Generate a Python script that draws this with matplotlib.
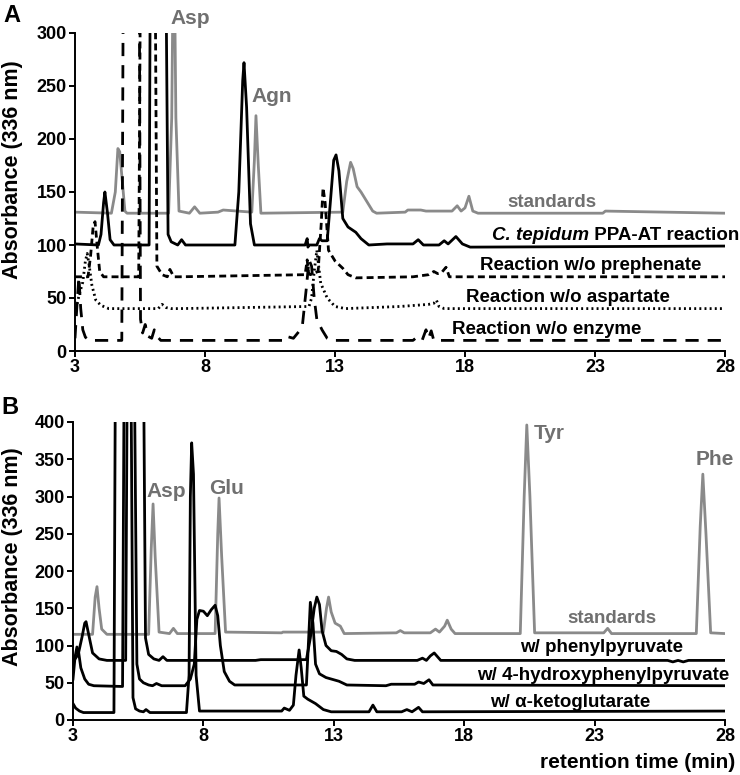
import matplotlib
matplotlib.use("Agg")
import matplotlib.pyplot as plt

plt.rcParams['font.family'] = ['Liberation Sans', 'DejaVu Sans']
plt.rcParams['font.weight'] = 'bold'
plt.rcParams['lines.scale_dashes'] = False

# ---------- panel A data ----------
stdA_t = [3.0, 4.4, 4.55, 4.65, 4.72, 4.82, 4.92, 5.0, 6.6, 6.72, 6.8, 6.88, 7.0, 7.4, 7.6, 7.8, 8.5, 8.7,
          9.8, 9.9, 9.96, 10.05, 10.15, 13.3, 13.45, 13.6, 13.7, 13.85, 14.0, 14.2, 14.45, 14.6, 15.7, 15.8,
          16.3, 16.5, 17.5, 17.7, 17.85, 18.0, 18.15, 18.3, 18.5, 23.3, 23.4, 28.0]
stdA_v = [131, 130, 150, 191, 188, 160, 132, 130, 130, 220, 420, 220, 132, 130, 136, 130, 131, 133,
          131, 180, 222, 175, 130, 131, 160, 178, 172, 155, 150, 142, 132, 130, 131, 133,
          133, 132, 132, 137, 132, 135, 146, 132, 130, 130, 132, 130]

ct_t = [3.0, 3.9, 4.0, 4.1, 4.15, 4.25, 4.35, 4.5, 5.85, 5.92, 6.45, 6.58, 6.7, 6.95, 7.1, 7.25, 7.5,
        9.15, 9.3, 9.45, 9.5, 9.6, 9.75, 9.9, 11.85, 11.93, 11.96, 12.0, 12.3, 12.4, 12.5, 12.7, 12.82,
        12.95, 13.04, 13.15, 13.3, 13.5, 13.8, 14.0, 14.3, 15.0, 16.0, 16.2, 16.4, 17.0, 17.2, 17.35,
        17.65, 17.9, 18.2, 28.0]
ct_v = [101, 100, 110, 140, 150, 130, 105, 100, 100, 500, 500, 110, 103, 100, 105, 100, 100,
        100, 150, 255, 272, 230, 120, 100, 100, 106, 98, 100, 100, 106, 104, 104, 140,
        180, 185, 170, 125, 117, 112, 106, 100, 101, 101, 105, 100, 100, 104, 101,
        108, 101, 98, 99]

pre_t = [3.0, 3.5, 3.6, 3.7, 3.77, 3.85, 3.95, 4.1, 5.45, 5.55, 6.05, 6.15, 6.35, 6.55, 6.65, 6.8,
         7.0, 11.85, 11.93, 11.98, 12.05, 12.35, 12.47, 12.54, 12.62, 12.75, 13.0, 13.3, 13.5, 13.8,
         16.0, 16.6, 16.8, 16.95, 17.1, 17.27, 17.4, 17.6, 28.0]
pre_v = [70, 70, 90, 118, 122, 100, 75, 70, 70, 500, 500, 80, 72, 70, 77, 70,
         70, 72, 86, 74, 72, 75, 120, 154, 140, 95, 85, 78, 72, 69,
         70, 72, 75, 73, 74, 79, 70, 70, 70]

asp_t = [3.0, 3.15, 3.3, 3.4, 3.47, 3.55, 3.65, 3.8, 4.0, 4.3, 6.2, 6.35, 6.5, 6.7, 7.0, 12.0,
         12.1, 12.2, 12.3, 12.45, 12.7, 13.0, 13.4, 15.5, 16.6, 16.8, 16.9, 17.0, 17.2, 28.0]
asp_v = [35, 52, 65, 85, 92, 80, 62, 48, 43, 40, 40, 44, 41, 40, 40, 42,
         50, 75, 95, 64, 50, 42, 40, 42, 44, 45, 48, 42, 40, 40]

enz_t = [3.0, 3.08, 3.15, 3.22, 3.3, 3.4, 3.55, 4.8, 4.88, 5.45, 5.52, 5.6, 5.7, 5.8, 5.95, 6.05,
         6.15, 6.3, 6.5, 11.0, 11.1, 11.4, 11.6, 11.75, 11.9, 12.0, 12.1, 12.2, 12.3, 12.5, 12.7,
         12.85, 16.0, 16.15, 16.35, 16.5, 16.6, 16.7, 16.8, 28.0]
enz_v = [12, 45, 70, 40, 20, 13, 10, 10, 500, 500, 30, 17, 25, 14, 12, 20,
         14, 10, 10, 10, 14, 12, 18, 25, 60, 86, 80, 50, 30, 20, 12,
         10, 10, 13, 10, 20, 12, 19, 10, 10]

# ---------- panel B data ----------
stdB_t = [3.0, 3.75, 3.85, 3.92, 4.0, 4.1, 4.3, 5.9, 6.0, 6.07, 6.15, 6.3, 6.7, 6.85, 7.0, 8.45,
          8.55, 8.6, 8.7, 8.85, 11.0, 11.05, 12.6, 12.72, 12.8, 12.9, 13.05, 13.25, 13.4, 15.4, 15.55,
          15.7, 16.7, 16.9, 17.05, 17.25, 17.35, 17.5, 17.65, 20.15, 20.3, 20.4, 20.52, 20.7, 23.35,
          23.5, 23.65, 26.9, 27.05, 27.15, 27.27, 27.45, 28.0]
stdB_v = [115, 115, 165, 179, 150, 122, 115, 115, 230, 290, 220, 118, 116, 123, 116, 116,
          250, 298, 220, 118, 117, 118, 118, 150, 165, 145, 130, 126, 116, 117, 120,
          117, 117, 122, 118, 126, 134, 122, 116, 116, 300, 396, 300, 117, 117,
          123, 116, 116, 260, 330, 250, 117, 116]

php_t = [3.0, 3.2, 3.35, 3.45, 3.5, 3.6, 3.75, 4.0, 4.3, 5.02, 5.1, 5.68, 5.78, 5.9, 6.1, 6.3,
         6.45, 6.6, 6.8, 10.0, 10.2, 11.95, 12.1, 12.25, 12.35, 12.45, 12.55, 12.7, 12.9, 13.1,
         13.3, 13.5, 13.8, 16.2, 16.4, 16.55, 16.7, 16.85, 16.95, 17.1, 25.8, 26.0, 26.2, 26.4,
         26.6, 28.0]
php_v = [78, 88, 112, 130, 132, 115, 90, 82, 80, 80, 600, 600, 110, 88, 82, 80,
         85, 80, 80, 80, 81, 81, 110, 150, 165, 155, 120, 100, 93, 92,
         88, 82, 80, 80, 83, 80, 86, 90, 86, 80, 80, 78, 80, 78,
         80, 80]

hpp_t = [3.0, 3.08, 3.15, 3.22, 3.3, 3.45, 3.6, 3.8, 4.9, 4.98, 5.32, 5.45, 5.55, 5.7, 5.9, 6.05,
         6.2, 6.4, 7.3, 7.5, 7.65, 7.75, 7.85, 8.0, 8.15, 8.3, 8.45, 8.55, 8.65, 8.8, 9.0, 9.2,
         11.95, 12.05, 12.1, 12.2, 12.3, 12.45, 12.7, 13.0, 13.2, 13.5, 15.0, 15.2, 16.1, 16.25,
         16.45, 16.65, 16.8, 28.0]
hpp_v = [55, 85, 98, 90, 70, 55, 48, 46, 45, 600, 600, 75, 55, 50, 47, 46,
         49, 46, 46, 55, 75, 135, 147, 146, 140, 148, 154, 140, 100, 65, 52, 47,
         47, 120, 158, 130, 75, 62, 57, 54, 52, 47, 46, 48, 48, 51,
         49, 54, 47, 46]

akg_t = [3.0, 3.1, 3.25, 3.4, 4.57, 4.64, 5.2, 5.3, 5.4, 5.55, 5.7, 5.8, 5.95, 6.1, 7.35, 7.45,
         7.5, 7.55, 7.62, 7.72, 7.85, 11.0, 11.1, 11.3, 11.45, 11.55, 11.67, 11.75, 11.85, 12.0,
         12.3, 12.6, 12.9, 14.35, 14.5, 14.65, 15.6, 15.8, 16.0, 16.25, 16.4, 28.0]
akg_v = [22, 16, 12, 10, 10, 600, 600, 30, 15, 12, 11, 14, 10, 10, 10, 60,
         300, 372, 330, 60, 12, 12, 16, 13, 20, 60, 94, 70, 32, 28,
         22, 14, 11, 11, 20, 11, 11, 14, 11, 17, 11, 12]

xticks = [3, 8, 13, 18, 23, 28]

gray_line = '#8a8a8a'
gray_text = '#707070'
lw = 2.0
fs = 13.5      # curve labels
tfs = 13       # tick labels
pfs = 15       # peak names

fig = plt.figure(figsize=(7.4, 7.75), dpi=100)
axA = fig.add_axes([75/740, 1-351/775, 650/740, 318/775])
axB = fig.add_axes([73/740, 1-720/775, 652/740, 298/775])


def style(ax, ymax, ystep):
    ax.set_xlim(3, 28)
    ax.set_ylim(0, ymax)
    ax.set_xticks(xticks)
    ax.set_yticks(range(0, ymax + 1, ystep))
    for s in ['top', 'right']:
        ax.spines[s].set_visible(False)
    for s in ['left', 'bottom']:
        ax.spines[s].set_linewidth(1.4)
    ax.tick_params(direction='out', length=4, width=1.4, pad=2, labelsize=tfs)
    for lab in ax.get_xticklabels() + ax.get_yticklabels():
        lab.set_fontweight('bold')


# panel A
axA.plot(stdA_t, stdA_v, color=gray_line, lw=lw)
axA.plot(ct_t, ct_v, color='black', lw=lw)
axA.plot(pre_t, pre_v, color='black', lw=lw, linestyle=(0, (5, 3)))
axA.plot(asp_t, asp_v, color='black', lw=lw, linestyle=(0, (1.4, 2.3)))
axA.plot(enz_t, enz_v, color='black', lw=lw, linestyle=(0, (9.5, 6.5)))
style(axA, 300, 50)

axA.text(7.42, 314, 'Asp', color=gray_text, fontsize=pfs, ha='center', va='center', clip_on=False)
axA.text(10.58, 240, 'Agn', color=gray_text, fontsize=pfs, ha='center', va='center')
axA.text(21.35, 140.5, 'standards', color=gray_text, fontsize=fs, ha='center', va='center')
t1 = axA.text(19.04, 109, 'C. tepidum', style='italic', fontsize=fs, ha='left', va='center')
axA.annotate(' PPA-AT reaction', xy=(1, 0.5), xycoords=t1, fontsize=fs, ha='left', va='center',
             annotation_clip=False)
axA.text(22.85, 81, 'Reaction w/o prephenate', fontsize=fs, ha='center', va='center')
axA.text(21.94, 50, 'Reaction w/o aspartate', fontsize=fs, ha='center', va='center')
axA.text(21.15, 20, 'Reaction w/o enzyme', fontsize=fs, ha='center', va='center')

# panel B
axB.plot(stdB_t, stdB_v, color=gray_line, lw=lw)
axB.plot(php_t, php_v, color='black', lw=lw)
axB.plot(hpp_t, hpp_v, color='black', lw=lw)
axB.plot(akg_t, akg_v, color='black', lw=lw)
style(axB, 400, 50)

axB.text(6.57, 307, 'Asp', color=gray_text, fontsize=pfs, ha='center', va='center')
axB.text(8.9, 311, 'Glu', color=gray_text, fontsize=pfs, ha='center', va='center')
axB.text(21.25, 385, 'Tyr', color=gray_text, fontsize=pfs, ha='center', va='center')
axB.text(27.62, 349, 'Phe', color=gray_text, fontsize=pfs, ha='center', va='center', clip_on=False)
axB.text(23.67, 136, 'standards', color=gray_text, fontsize=fs, ha='center', va='center')
axB.text(23.28, 97, 'w/ phenylpyruvate', fontsize=fs, ha='center', va='center')
axB.text(23.32, 60, 'w/ 4-hydroxyphenylpyruvate', fontsize=fs, ha='center', va='center')
axB.text(22.06, 24, 'w/ α-ketoglutarate', fontsize=fs, ha='center', va='center')

fig.text(0.993, 1-763/775, 'retention time (min)', fontsize=15, ha='right', va='center')
fig.text(13/740, 1-170/775, 'Absorbance (336 nm)', fontsize=15.5, rotation=90, ha='center', va='center')
fig.text(13/740, 1-557/775, 'Absorbance (336 nm)', fontsize=15.5, rotation=90, ha='center', va='center')
fig.text(12/740, 1-15/775, 'A', fontsize=17, ha='center', va='center')
fig.text(10/740, 1-407/775, 'B', fontsize=17, ha='center', va='center')

fig.savefig('out.png', dpi=100)
